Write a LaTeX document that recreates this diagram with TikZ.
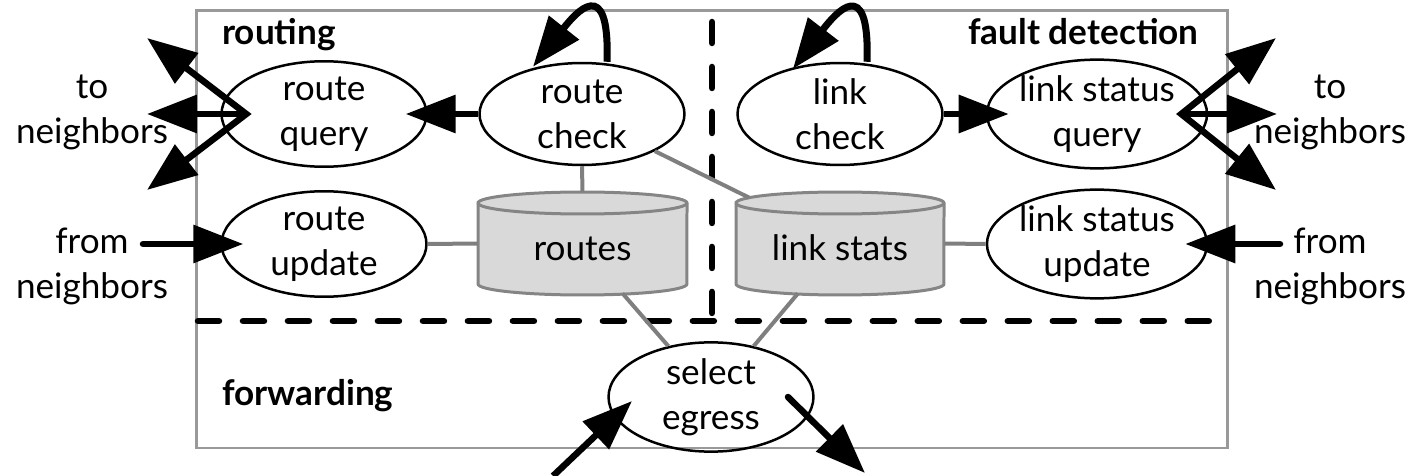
\documentclass[tikz,border=0pt]{standalone}
\usepackage{fontspec}
\setmainfont{Lato}
\usetikzlibrary{arrows.meta,shapes.geometric,calc}
\definecolor{linkgray}{HTML}{7F7F7F}
\definecolor{boxgray}{HTML}{999999}
\definecolor{dbfill}{HTML}{D9D9D9}
\definecolor{dbdraw}{HTML}{858585}
\begin{document}
\begin{tikzpicture}[x=0.02cm,y=-0.02cm,
  txt/.style={font=\fontsize{20}{25.6}\selectfont,align=center,inner sep=0pt},
  lbl/.style={font=\fontsize{20}{25.6}\selectfont\bfseries,inner sep=0pt},
  proc/.style={txt,draw=black,line width=0.05cm,ellipse,minimum width=4.1cm,minimum height=2.04cm},
  dbnode/.style={txt,minimum width=4.18cm,minimum height=2.06cm},
  arr/.style={line width=0.13cm,-{Triangle[length=1.0cm,width=0.74cm]}},
  arrtwo/.style={line width=0.13cm,{Triangle[length=1.0cm,width=0.74cm]}-{Triangle[length=1.0cm,width=0.74cm]}},
  link/.style={draw=linkgray,line width=0.08cm},
  sep/.style={line width=0.13cm,dash pattern=on 0.42cm off 0.48cm,line cap=round},
  dbshape/.style={fill=dbfill,draw=dbdraw,line width=0.06cm}
]
\useasboundingbox (0,0) rectangle (1411,476);

% outer box
\draw[boxgray,line width=0.06cm] (196,11) rectangle (1227,448);

% separators
\draw[sep] (712,22) -- (712,321);
\draw[sep] (198,321) -- (1225,321);

% cylinders
\path[dbshape] (478,203) -- (478,284) arc[start angle=180,end angle=360,x radius=2.09cm,y radius=0.22cm] -- (687,203) arc[start angle=0,end angle=180,x radius=2.09cm,y radius=0.22cm] -- cycle;
\draw[draw=dbdraw,line width=0.06cm] (478,203) arc[start angle=180,end angle=360,x radius=2.09cm,y radius=0.22cm];
\path[dbshape] (736,203) -- (736,284) arc[start angle=180,end angle=360,x radius=2.08cm,y radius=0.22cm] -- (944,203) arc[start angle=0,end angle=180,x radius=2.08cm,y radius=0.22cm] -- cycle;
\draw[draw=dbdraw,line width=0.06cm] (736,203) arc[start angle=180,end angle=360,x radius=2.08cm,y radius=0.22cm];
\node[dbnode] (routes) at (582.5,243.5) {\raisebox{-9.4pt}[0pt][0pt]{routes}};
\node[dbnode] (ls) at (840,243.5) {\raisebox{-9.4pt}[0pt][0pt]{link stats}};

% processes
\node[proc] (rq) at (324,114) {route\\query};
\node[proc] (ru) at (324,244) {route\\update};
\node[proc] (rc) at (582,114) {route\\check};
\node[proc] (lc) at (840,114) {link\\check};
\node[proc] (lsq) at (1097,114) {link status\\query};
\node[proc] (lsu) at (1097,244) {link status\\update};
\node[proc] (sel) at (711,397) {select\\egress};

% labels
\node[lbl,anchor=base west] (lrouting) at (222,45) {routing};
\node[lbl,anchor=base east] (lfault) at (1199,45) {fault detection};
\node[lbl,anchor=base west] (lfwd) at (222,406) {forwarding};
\node[txt] (tnl) at (92,112) {to\\neighbors};
\node[txt] (fnlbl) at (92,266) {from\\neighbors};
\node[txt] (tnr) at (1330,112) {to\\neighbors};
\node[txt] (fnrlbl) at (1330,266) {from\\neighbors};

% gray links
\draw[link] (ru.east) -- (routes.west);
\draw[link] (rc.south) -- (routes.north);
\draw[link] (rc.-27) -- ([shift={(14,6)}]ls.north west);
\draw[link] (ls.east) -- (lsu.west);
\draw[link] ([shift={(40,-2)}]routes.south) -- (sel.130);
\draw[link] ([shift={(-42,-2)}]ls.south) -- (sel.50);

% black arrows
\draw[arr,shorten >=-0.44cm] (rc.west) -- (rq.east);
\draw[arr,shorten >=-0.46cm] (lc.east) -- (lsq.west);

\coordinate (rqo) at ($(rq.west)+(26,0)$);
\coordinate (tl1) at (147,38);
\coordinate (tl2) at (147,114);
\coordinate (tl3) at (147,190);
\draw[arrtwo,line join=miter] (tl1) -- (rqo) -- (tl3);
\draw[arr] (rqo) -- (tl2);

\coordinate (lso) at ($(lsq.east)+(-27,0)$);
\coordinate (tr1) at (1276,38);
\coordinate (tr2) at (1277,114);
\coordinate (tr3) at (1276,190);
\draw[arrtwo,line join=miter] (tr1) -- (lso) -- (tr3);
\draw[arr] (lso) -- (tr2);

\coordinate (fnl) at (143,244);
\coordinate (fnr) at (1280,244);
\draw[arr,line cap=round,shorten >=-0.46cm] (fnl) -- (ru.west);
\draw[arr,line cap=round,shorten >=-0.46cm] (fnr) -- (lsu.east);

\coordinate (sin) at (553,476);
\coordinate (sout) at (865,473);
\draw[arr] (sin) -- ($(sel.center)+(-79,4)$);
\draw[arr,line cap=round] ($(sel.center)+(77,0)$) -- (sout);

% self loops
\draw[arr,line width=0.14cm] ($(rc.north)+(25,0)$) .. controls ($(rc.north)+(28,-90)$) and ($(rc.north)+(-7,-48)$) .. ($(rc.north)+(-49,5)$);
\draw[arr,line width=0.14cm] ($(lc.north)+(27,0)$) .. controls ($(lc.north)+(30,-90)$) and ($(lc.north)+(-5,-48)$) .. ($(lc.north)+(-47,7)$);
\end{tikzpicture}
\end{document}
